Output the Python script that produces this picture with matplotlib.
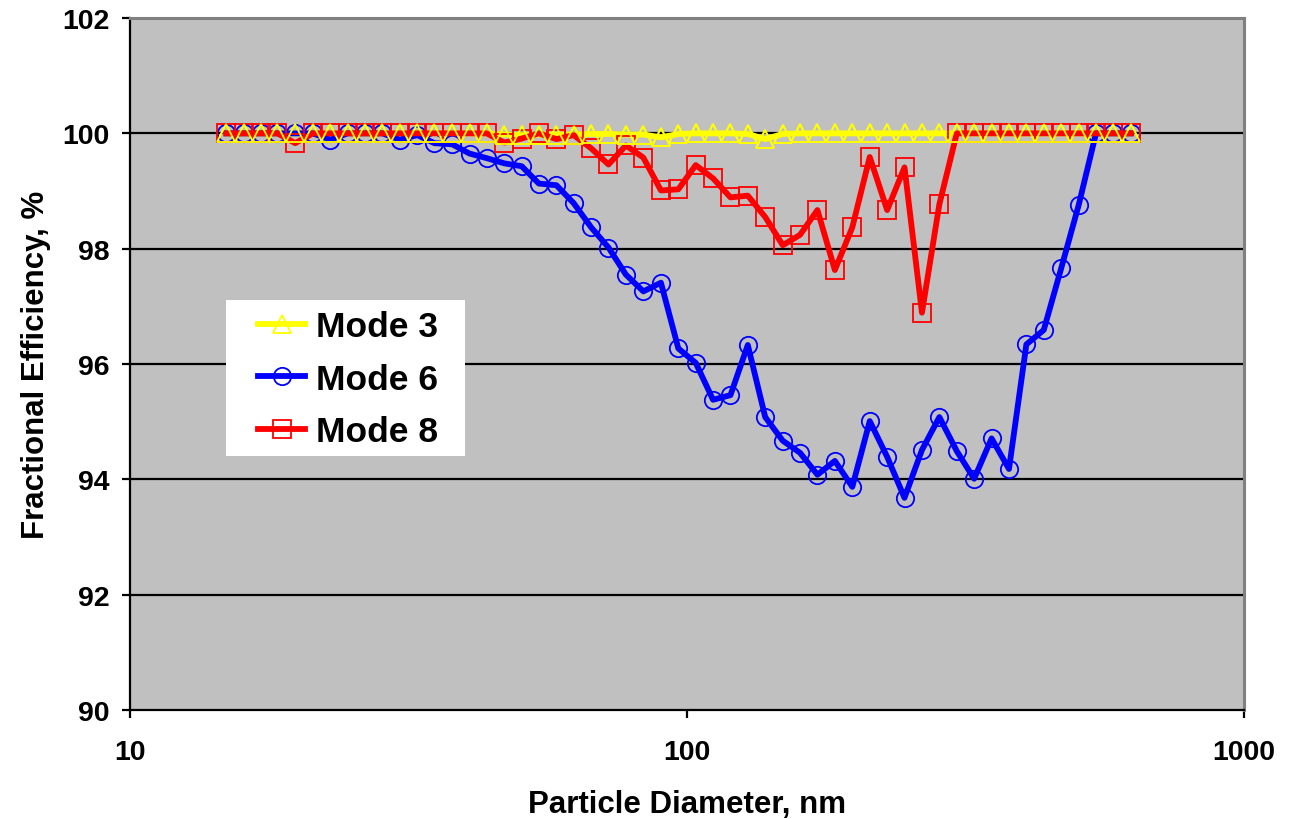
import numpy as np
import matplotlib
matplotlib.use("Agg")
import matplotlib.pyplot as plt
from matplotlib.patches import Rectangle
from matplotlib.ticker import FixedLocator, NullLocator

plt.rcParams['font.family'] = ['Liberation Sans', 'DejaVu Sans']
plt.rcParams['font.weight'] = 'bold'

# particle diameters (nm), SMPS channel midpoints
diameter = [14.9, 16.0, 17.2, 18.4, 19.8, 21.3, 22.9, 24.6, 26.4, 28.4,
            30.5, 32.8, 35.2, 37.9, 40.7, 43.7, 47.0, 50.5, 54.2, 58.3,
            62.6, 67.3, 72.3, 77.7, 83.5, 89.8, 96.5, 103.7, 111.4, 119.7,
            128.6, 138.2, 148.6, 159.6, 171.5, 184.3, 198.1, 212.9, 228.8, 245.8,
            264.2, 283.9, 305.1, 327.8, 352.3, 378.6, 406.8, 437.1, 469.8, 504.8,
            542.5, 582.9, 626.4]

mode3 = [100, 100, 100, 100, 100, 100, 100, 100, 100, 100,
         100, 100, 100, 100, 100, 100, 99.98, 99.97, 99.98, 99.98,
         99.98, 99.99, 99.99, 99.98, 99.98, 99.93, 99.99, 100, 100, 100,
         99.99, 99.90, 99.99, 100, 100, 100, 100, 100, 100, 100,
         100, 100, 100, 100, 100, 100, 100, 100, 100, 100,
         100, 100, 100]

mode6 = [100, 100, 100, 100, 100, 100, 99.89, 100, 100, 100,
         99.89, 99.97, 99.83, 99.81, 99.65, 99.57, 99.48, 99.43, 99.13, 99.10,
         98.79, 98.37, 98.02, 97.55, 97.26, 97.41, 96.27, 96.02, 95.38, 95.46,
         96.33, 95.08, 94.67, 94.46, 94.08, 94.32, 93.87, 95.01, 94.39, 93.68,
         94.51, 95.08, 94.49, 94.01, 94.71, 94.18, 96.34, 96.59, 97.66, 98.75,
         100, 100, 100]

mode8 = [100, 100, 100, 100, 99.83, 100, 100, 100, 100, 100,
         100, 100, 100, 100, 100, 100, 99.84, 99.91, 100, 99.90,
         99.97, 99.74, 99.46, 99.79, 99.58, 99.01, 99.03, 99.45, 99.22, 98.89,
         98.92, 98.55, 98.06, 98.24, 98.67, 97.63, 98.37, 99.59, 98.67, 99.41,
         96.89, 98.77, 100, 100, 100, 100, 100, 100, 100, 100,
         100, 100, 100]

fig = plt.figure(figsize=(12.92, 8.2), dpi=100)
ax = fig.add_axes([0.1006, 0.1329, 0.8622, 0.8439])
ax.set_facecolor('#C0C0C0')

common = dict(linewidth=4.2, markersize=12.5, markerfacecolor='none', markeredgewidth=1.3)
ax.plot(diameter, mode3, color='#FFFF00', marker='^', label='Mode 3', zorder=3, **common)
ax.plot(diameter, mode6, color='#0000FF', marker='o', label='Mode 6', zorder=4, **common)
ax.plot(diameter, mode8, color='#FF0000', marker='s', label='Mode 8', zorder=5, **common)
# yellow triangles sit on top of the other series
ax.plot(diameter, mode3, color='#FFFF00', marker='^', linestyle='none',
        markersize=12.5, markerfacecolor='none', markeredgewidth=1.3, zorder=6)

ax.set_xscale('log')
ax.set_xlim(10, 1000)
ax.set_ylim(90, 102)
ax.xaxis.set_major_locator(FixedLocator([10, 100, 1000]))
ax.xaxis.set_minor_locator(NullLocator())
ax.set_xticklabels(['10', '100', '1000'])
ax.set_yticks(np.arange(90, 103, 2))

for y in [92, 94, 96, 98, 100]:
    ax.axhline(y, color='black', linewidth=1.6, zorder=1)

for side in ['left', 'bottom']:
    ax.spines[side].set_color('black')
    ax.spines[side].set_linewidth(1.6)
for side in ['top', 'right']:
    ax.spines[side].set_color('#808080')
    ax.spines[side].set_linewidth(2.2)

ax.tick_params(axis='both', direction='out', length=6, width=1.6, labelsize=20.5)
ax.tick_params(axis='y', pad=9)
ax.tick_params(axis='x', pad=15)

ax.set_xlabel('Particle Diameter, nm', fontsize=22.5, fontweight='bold', labelpad=17)
ax.set_ylabel('Fractional Efficiency, %', fontsize=22.5, fontweight='bold', labelpad=8)

# white legend box
ax.add_patch(Rectangle((0.0862, 0.367), 0.2145, 0.2255, transform=ax.transAxes,
                       facecolor='white', edgecolor='none', zorder=8))
leg = ax.legend(loc='center left', bbox_to_anchor=(0.1149, 0.478), borderaxespad=0,
                borderpad=0, fontsize=25.5, frameon=False, handlelength=1.33,
                handletextpad=0.3, labelspacing=0.55)
leg.set_zorder(9)
for t in leg.get_texts():
    t.set_fontweight('bold')

fig.savefig('out.png', dpi=100)
